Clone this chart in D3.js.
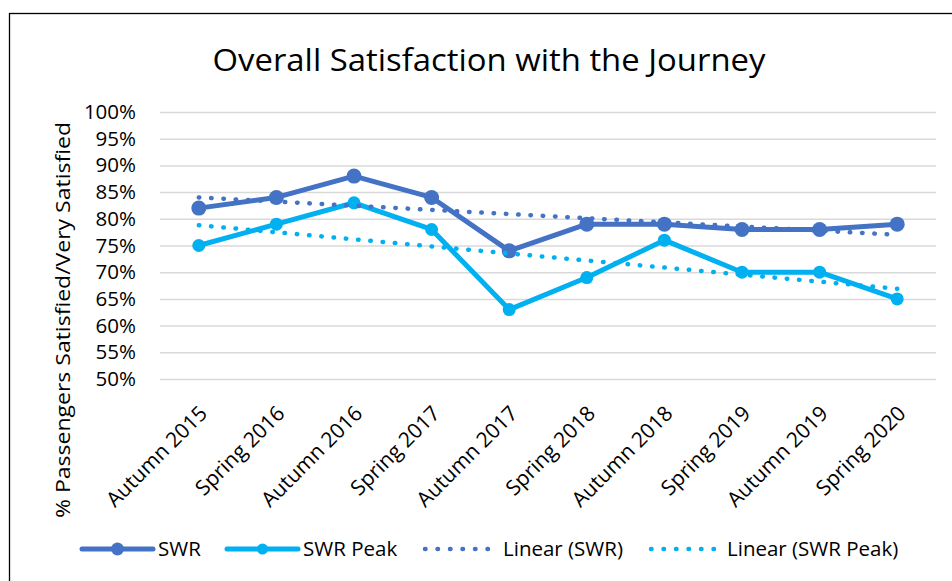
<!DOCTYPE html>
<html>
<head>
<meta charset="utf-8">
<script src="https://d3js.org/d3.v7.min.js"></script>
<style>
  body { margin: 0; background: #fff; }
  text { font-family: "Open Sans", "Noto Sans", sans-serif; fill: #000; }
</style>
</head>
<body>
<script>
    // data
    let categories = ["Autumn 2015", "Spring 2016", "Autumn 2016", "Spring 2017", "Autumn 2017",
                      "Spring 2018", "Autumn 2018", "Spring 2019", "Autumn 2019", "Spring 2020"];
    let swr     = [82, 84, 88, 84, 74, 79, 79, 78, 78, 79];
    let swrPeak = [75, 79, 83, 78, 63, 69, 76, 70, 70, 65];
    // trendline end points (first / last category), as drawn
    let trendSwr  = [84.0, 77.0];
    let trendPeak = [78.8, 66.9];
    let yTicks = [50, 55, 60, 65, 70, 75, 80, 85, 90, 95, 100];

    let width = 952, height = 581;
    let margin = {top: 112, left: 160, right: 16, bottom: 202};

    let blue = "#4472C4", cyan = "#00B0F0";

    let svg = d3.select("body").append("svg")
        .attr("width", width)
        .attr("height", height);

    // chart frame (right and bottom edges fall outside the picture)
    svg.append("rect")
        .attr("x", 9.5).attr("y", 13.5)
        .attr("width", 1000).attr("height", 1000)
        .attr("fill", "none")
        .attr("stroke", "#000")
        .attr("stroke-width", 1.3);

    let x = d3.scaleBand()
        .domain(categories)
        .range([margin.left, width - margin.right]);

    let y = d3.scaleLinear()
        .domain([50, 100])
        .range([height - margin.bottom, margin.top]);

    let cx = d => x(d) + x.bandwidth() / 2;

    // gridlines + y labels
    let yAxis = svg.append("g")
        .attr("transform", `translate(${margin.left},0)`)
        .call(d3.axisLeft(y)
            .tickValues(yTicks)
            .tickSize(-(width - margin.left - margin.right))
            .tickPadding(24)
            .tickFormat(d => d + "%"));
    yAxis.select(".domain").remove();
    yAxis.selectAll(".tick line")
        .attr("stroke", "#d9d9d9")
        .attr("stroke-width", 1.5);
    yAxis.selectAll(".tick text")
        .attr("font-size", 20.5)
        .attr("font-family", "Open Sans");

    // x labels, rotated
    let xAxis = svg.append("g")
        .attr("transform", `translate(0,${height - margin.bottom})`)
        .call(d3.axisBottom(x).tickSize(0).tickFormat(d => d));
    xAxis.select(".domain").remove();
    xAxis.selectAll(".tick text")
        .attr("font-size", 21)
        .attr("font-family", "Open Sans")
        .attr("text-anchor", "end")
        .attr("y", null)
        .attr("transform", "translate(-1,25) rotate(-45)")
        .attr("dy", "0.72em");

    // y axis title
    svg.append("text")
        .attr("transform", `translate(70,320) rotate(-90)`)
        .attr("text-anchor", "middle")
        .attr("font-size", 20.5)
        .attr("textLength", 396)
        .attr("lengthAdjust", "spacingAndGlyphs")
        .text("% Passengers Satisfied/Very Satisfied");

    // title
    svg.append("text")
        .attr("x", 489).attr("y", 71)
        .attr("text-anchor", "middle")
        .attr("font-size", 31)
        .attr("textLength", 553)
        .attr("lengthAdjust", "spacingAndGlyphs")
        .text("Overall Satisfaction with the Journey");

    let line = d3.line()
        .x((d, i) => cx(categories[i]))
        .y(d => y(d));

    let series = [
        {name: "SWR", values: swr, color: blue, r: 7.5},
        {name: "SWR Peak", values: swrPeak, color: cyan, r: 6.5}
    ];

    series.forEach(s => {
        svg.append("path")
            .datum(s.values)
            .attr("d", line)
            .attr("fill", "none")
            .attr("stroke", s.color)
            .attr("stroke-width", 5)
            .attr("stroke-linejoin", "round");
        svg.append("g")
            .selectAll("circle")
            .data(s.values)
            .join("circle")
                .attr("cx", (d, i) => cx(categories[i]))
                .attr("cy", d => y(d))
                .attr("r", s.r)
                .attr("fill", s.color);
    });

    // linear trendlines
    let trends = [
        {name: "Linear (SWR)", ends: trendSwr, color: blue},
        {name: "Linear (SWR Peak)", ends: trendPeak, color: cyan}
    ];
    let first = categories[0], last = categories[categories.length - 1];
    trends.forEach(t => {
        svg.append("line")
            .attr("x1", cx(first)).attr("y1", y(t.ends[0]))
            .attr("x2", cx(last)).attr("y2", y(t.ends[1]))
            .attr("stroke", t.color)
            .attr("stroke-width", 4.5)
            .attr("stroke-linecap", "round")
            .attr("stroke-dasharray", "0.5 11.8");
    });

    // legend
    let ly = 549;
    let legend = [
        {label: "SWR", color: blue, x0: 82, x1: 153, r: 6.5, dotted: false, tx: 158},
        {label: "SWR Peak", color: cyan, x0: 227, x1: 298, r: 5.5, dotted: false, tx: 303},
        {label: "Linear (SWR)", color: blue, x0: 425, x1: 489, dotted: true, tx: 503},
        {label: "Linear (SWR Peak)", color: cyan, x0: 651, x1: 714, dotted: true, tx: 727}
    ];
    let lg = svg.append("g");
    legend.forEach(l => {
        lg.append("line")
            .attr("x1", l.x0).attr("x2", l.x1)
            .attr("y1", ly).attr("y2", ly)
            .attr("stroke", l.color)
            .attr("stroke-width", l.dotted ? 4.5 : 5)
            .attr("stroke-linecap", "round")
            .attr("stroke-dasharray", l.dotted ? "0.5 12" : null);
        if (!l.dotted) {
            lg.append("circle")
                .attr("cx", (l.x0 + l.x1) / 2).attr("cy", ly)
                .attr("r", l.r).attr("fill", l.color);
        }
        lg.append("text")
            .attr("x", l.tx).attr("y", ly)
            .attr("dy", "0.35em")
            .attr("font-size", 20.5)
            .text(l.label);
    });
</script>
</body>
</html>
